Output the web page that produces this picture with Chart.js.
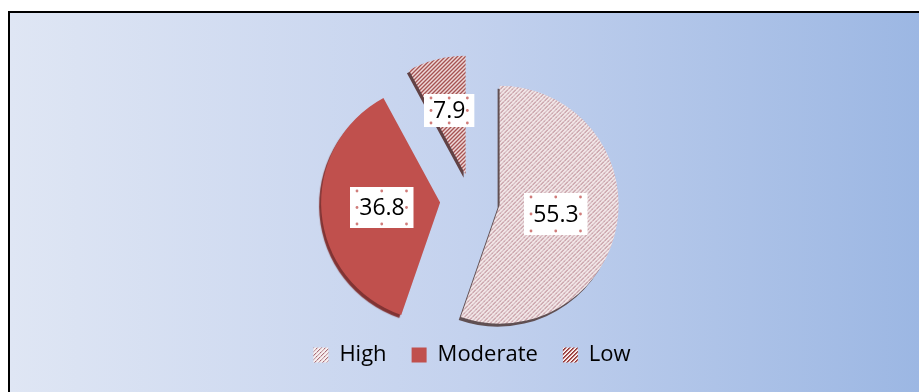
<!DOCTYPE html>
<html>
<head>
<meta charset="utf-8">
<script src="https://cdn.jsdelivr.net/npm/chart.js@4.4.1/dist/chart.umd.min.js"></script>
<style>
  html, body { margin: 0; padding: 0; background: #ffffff; width: 919px; height: 392px; overflow: hidden; }
  #frame {
    position: absolute; left: 8px; top: 11px; width: 911px; height: 381px;
    box-sizing: border-box; border-left: 2px solid #000; border-top: 2px solid #000;
    background: linear-gradient(to right, #DFE6F4 0%, #C4D2EE 50%, #9CB7E3 100%);
  }
  #wrap { position: absolute; left: 0; top: 0; width: 919px; height: 392px; }
</style>
</head>
<body>
<div id="frame"></div>
<div id="wrap"><canvas id="chart" width="919" height="392"></canvas></div>
<script>
// Share of respondents per level (%)
const categories = ['High', 'Moderate', 'Low'];
const shares = [55.3, 36.8, 7.9];

const canvas = document.getElementById('chart');
const ctx = canvas.getContext('2d');

// Small pixel tiles used as pattern fills
function makePattern(size, paint) {
  const c = document.createElement('canvas');
  c.width = c.height = size;
  const g = c.getContext('2d');
  const img = g.createImageData(size, size);
  for (let y = 0; y < size; y++) {
    for (let x = 0; x < size; x++) {
      const [r, gr, b] = paint(x, y);
      const k = (y * size + x) * 4;
      img.data[k] = r; img.data[k + 1] = gr; img.data[k + 2] = b; img.data[k + 3] = 255;
    }
  }
  g.putImageData(img, 0, 0);
  return ctx.createPattern(c, 'repeat');
}

// light weave for "High"
const weave = makePattern(8, (x, y) => {
  const d = (x + y) % 4;
  const block = ((x >> 2) + (y >> 2)) % 2;
  if (d === 0 && block === 0) return [170, 108, 120];
  if (d === 0) return [200, 162, 170];
  if (d === 1) return [228, 210, 214];
  return [248, 240, 240];
});

// diagonal stripes for "Low"
const stripes = makePattern(4, (x, y) => {
  const d = (x + y) % 4;
  if (d === 0) return [146, 58, 58];
  if (d === 1) return [176, 92, 92];
  if (d === 2) return [240, 218, 218];
  return [252, 244, 244];
});

const fills = [weave, '#C0504D', stripes];

// Pulls each slice out along its middle angle and gives it a thin edge underneath
const explodedSlices = {
  id: 'explodedSlices',
  beforeDatasetDraw(chart, args, opts) {
    const c = chart.ctx;
    args.meta.data.forEach((arc, i) => {
      const mid = (arc.startAngle + arc.endAngle) / 2;
      const d = opts.distance[i];
      c.save();
      c.translate(Math.cos(mid) * d, Math.sin(mid) * d);
      c.shadowColor = opts.edgeColor[i];
      c.shadowOffsetX = -2;
      c.shadowOffsetY = 3;
      c.shadowBlur = 1;
      arc.draw(c, chart.chartArea);
      c.restore();
    });
    return false;
  }
};

// Value labels in white boxes with small handle dots
const valueBoxes = {
  id: 'valueBoxes',
  afterDatasetsDraw(chart, args, opts) {
    const c = chart.ctx;
    const meta = chart.getDatasetMeta(0);
    const data = chart.data.datasets[0].data;
    meta.data.forEach((arc, i) => {
      const mid = (arc.startAngle + arc.endAngle) / 2;
      const dist = opts.distance[i] + opts.radial[i] * arc.outerRadius;
      const cx = arc.x + Math.cos(mid) * dist;
      const cy = arc.y + Math.sin(mid) * dist;
      const text = data[i].toFixed(1);
      c.save();
      c.font = "23px 'Open Sans'";
      const w = c.measureText(text).width + 18;
      const h = opts.boxHeight[i];
      const x0 = Math.round(cx - w / 2), y0 = Math.round(cy - h / 2);
      c.fillStyle = '#ffffff';
      c.fillRect(x0, y0, w, h);
      // handle dots
      c.fillStyle = 'rgba(192,80,77,0.75)';
      const ix = x0 + 7, iy = y0 + 4, iw = w - 14, ih = h - 8;
      const pts = [
        [ix, iy], [ix + iw / 2, iy], [ix + iw, iy],
        [ix, iy + ih / 2], [ix + iw, iy + ih / 2],
        [ix, iy + ih], [ix + iw / 2, iy + ih], [ix + iw, iy + ih]
      ];
      pts.forEach(([px, py]) => { c.beginPath(); c.arc(px, py, 1.4, 0, Math.PI * 2); c.fill(); });
      c.fillStyle = '#000000';
      c.textAlign = 'center';
      c.textBaseline = 'middle';
      c.fillText(text, cx, cy + 1);
      c.restore();
    });
  }
};

new Chart(ctx, {
  type: 'pie',
  data: {
    labels: categories,
    datasets: [{
      data: shares,
      backgroundColor: fills,
      borderWidth: 0,
      offset: 0,
      hoverOffset: 0
    }]
  },
  options: {
    responsive: false,
    animation: false,
    devicePixelRatio: 1,
    radius: 119,
    layout: { padding: { left: 25, right: 0, top: 81, bottom: 16 } },
    events: [],
    plugins: {
      tooltip: { enabled: false },
      legend: {
        position: 'bottom',
        labels: {
          boxWidth: 15,
          boxHeight: 15,
          padding: 25,
          color: '#000000',
          font: { family: "'Open Sans'", size: 22 }
        }
      },
      explodedSlices: {
        distance: [28, 32, 26],
        edgeColor: ['rgba(85,65,65,0.9)', 'rgba(125,42,40,0.95)', 'rgba(85,50,50,0.9)']
      },
      valueBoxes: {
        distance: [28, 32, 26],
        radial: [0.48, 0.49, 0.56],
        boxHeight: [42, 41, 33]
      }
    }
  },
  plugins: [explodedSlices, valueBoxes]
});
</script>
</body>
</html>
